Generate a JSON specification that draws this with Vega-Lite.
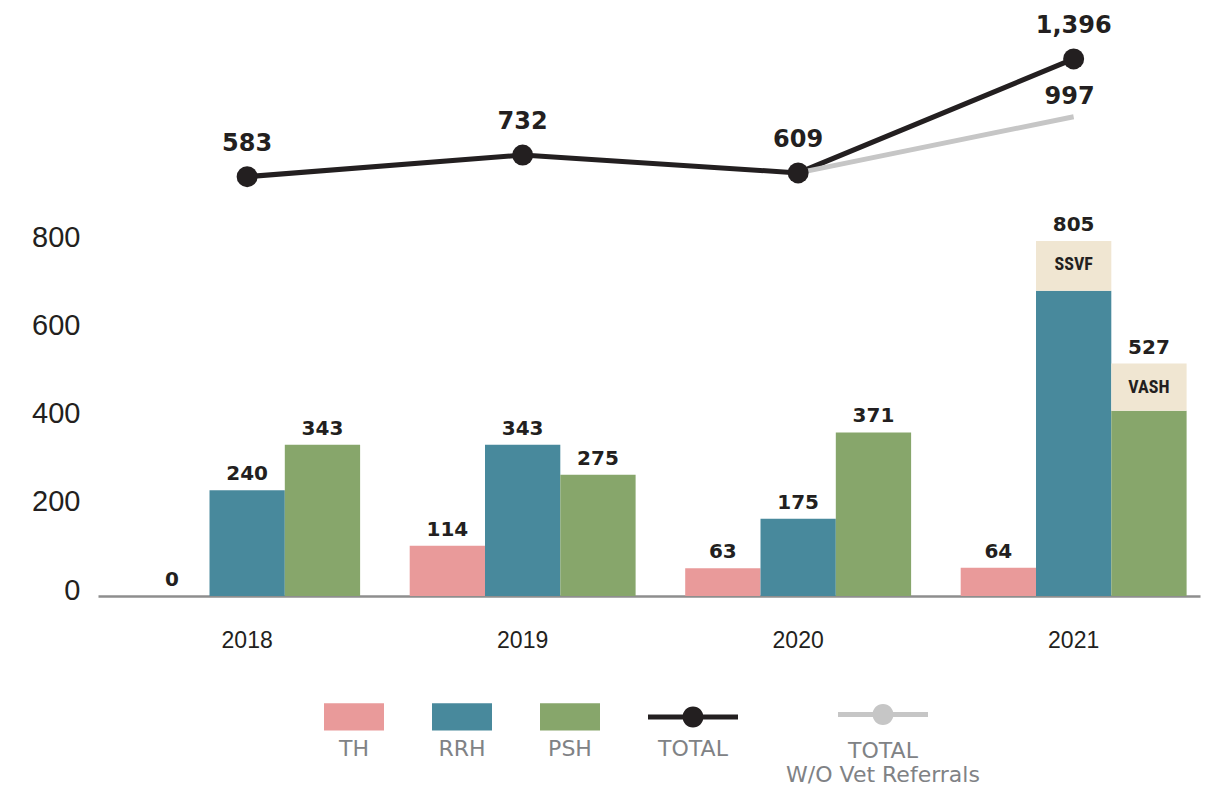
{
  "$schema": "https://vega.github.io/schema/vega-lite/v6.json",
  "width": 1102,
  "height": 596,
  "autosize": {"type": "none"},
  "padding": {"left": 98, "top": 0, "right": 12, "bottom": 197},
  "background": "white",
  "config": {"view": {"stroke": null}},
  "datasets": {
    "bars": [
      {"year": "2018", "series": "TH", "category": "TH", "value": 0, "stackOrder": 0},
      {"year": "2018", "series": "RRH", "category": "RRH", "value": 240, "stackOrder": 0},
      {"year": "2018", "series": "PSH", "category": "PSH", "value": 343, "stackOrder": 0},
      {"year": "2019", "series": "TH", "category": "TH", "value": 114, "stackOrder": 0},
      {"year": "2019", "series": "RRH", "category": "RRH", "value": 343, "stackOrder": 0},
      {"year": "2019", "series": "PSH", "category": "PSH", "value": 275, "stackOrder": 0},
      {"year": "2020", "series": "TH", "category": "TH", "value": 63, "stackOrder": 0},
      {"year": "2020", "series": "RRH", "category": "RRH", "value": 175, "stackOrder": 0},
      {"year": "2020", "series": "PSH", "category": "PSH", "value": 371, "stackOrder": 0},
      {"year": "2021", "series": "TH", "category": "TH", "value": 64, "stackOrder": 0},
      {"year": "2021", "series": "RRH", "category": "RRH", "value": 692, "stackOrder": 0},
      {"year": "2021", "series": "RRH", "category": "SSVF", "value": 113, "stackOrder": 1},
      {"year": "2021", "series": "PSH", "category": "PSH", "value": 420, "stackOrder": 0},
      {"year": "2021", "series": "PSH", "category": "VASH", "value": 107, "stackOrder": 1}
    ],
    "totals": [
      {"year": "2018", "series": "TOTAL", "value": 583},
      {"year": "2019", "series": "TOTAL", "value": 732},
      {"year": "2020", "series": "TOTAL", "value": 609},
      {"year": "2021", "series": "TOTAL", "value": 1396},
      {"year": "2020", "series": "TOTAL W/O Vet Referrals", "value": 609},
      {"year": "2021", "series": "TOTAL W/O Vet Referrals", "value": 997}
    ]
  },
  "encoding": {
    "x": {
      "field": "year",
      "type": "nominal",
      "scale": {"paddingInner": 0.18, "paddingOuter": 0.09, "align": 0.73},
      "axis": {
        "title": null,
        "ticks": false,
        "domain": true,
        "domainColor": "#8e8e8e",
        "domainWidth": 2.5,
        "labelFont": "Liberation Sans",
        "labelFontSize": 23,
        "labelColor": "#231f20",
        "labelPadding": 33,
        "labelAngle": 0
      }
    }
  },
  "layer": [
    {
      "data": {"name": "bars"},
      "encoding": {
        "xOffset": {
          "field": "series",
          "type": "nominal",
          "scale": {"domain": ["TH", "RRH", "PSH"], "paddingInner": 0, "paddingOuter": 0}
        }
      },
      "layer": [
        {
          "mark": {"type": "bar"},
          "encoding": {
            "y": {
              "field": "value",
              "type": "quantitative",
              "stack": "zero",
              "scale": {"domain": [0, 1351.5], "nice": false, "zero": true},
              "axis": {
                "title": null,
                "ticks": false,
                "domain": false,
                "grid": false,
                "values": [0, 200, 400, 600, 800],
                "labelFont": "Liberation Sans",
                "labelFontSize": 29,
                "labelColor": "#231f20",
                "labelPadding": 18,
                "labelOffset": -6
              }
            },
            "order": {"field": "stackOrder", "type": "quantitative"},
            "color": {
              "field": "category",
              "type": "nominal",
              "scale": {
                "domain": ["TH", "RRH", "PSH", "TOTAL", "TOTAL W/O Vet Referrals", "SSVF", "VASH"],
                "range": ["#e99a9a", "#48899c", "#87a66b", "#231f20", "#c6c6c6", "#f0e6d2", "#f0e6d2"]
              },
              "legend": {
                "title": null,
                "orient": "none",
                "legendX": 226,
                "legendY": 706,
                "direction": "horizontal",
                "padding": 0,
                "values": ["TH", "RRH", "PSH", "TOTAL", "TOTAL W/O Vet Referrals"],
                "symbolType": "M-1,-1.177H1V-0.267H-1Z",
                "symbolSize": 3600,
                "symbolStrokeWidth": 0,
                "labelOffset": -30,
                "labelAlign": "center",
                "labelBaseline": "top",
                "labelFont": "DejaVu Sans",
                "labelFontSize": 22,
                "labelColor": "#808285",
                "labelLimit": 400,
                "columnPadding": 48,
                "labelExpr": "datum.label == 'TOTAL W/O Vet Referrals' ? ['TOTAL', 'W/O Vet Referrals'] : [datum.label, ' ']",
                "encode": {
                  "symbols": {
                    "update": {
                      "shape": {"signal": "(datum.value == 'TOTAL' || datum.value == 'TOTAL W/O Vet Referrals') ? 'M-1.5,-0.8H1.5V-0.633H-1.5Z M0.35,-0.717C0.35,-0.5237 0.1933,-0.367 0,-0.367C-0.1933,-0.367 -0.35,-0.5237 -0.35,-0.717C-0.35,-0.9103 -0.1933,-1.067 0,-1.067C0.1933,-1.067 0.35,-0.9103 0.35,-0.717Z' : 'M-1,-1.177H1V-0.267H-1Z'"},
                      "fill": {"scale": "color", "field": "value"},
                      "stroke": {"value": "transparent"},
                      "strokeWidth": {"value": 0},
                      "opacity": {"value": 1}
                    }
                  },
                  "labels": {
                    "update": {
                      "lineHeight": {"value": 24},
                      "dy": {"signal": "datum.value == 'TOTAL W/O Vet Referrals' ? 5 : 0"}
                    }
                  }
                }
              }
            }
          }
        },
        {
          "mark": {"type": "text", "font": "DejaVu Sans", "fontWeight": "bold", "fontSize": 20, "baseline": "alphabetic", "dy": -10, "color": "#231f20"},
          "encoding": {
            "y": {"aggregate": "sum", "field": "value", "type": "quantitative"},
            "text": {"aggregate": "sum", "field": "value", "type": "quantitative", "format": ","}
          }
        },
        {
          "transform": [
            {"stack": "value", "groupby": ["year", "series"], "sort": [{"field": "stackOrder", "order": "ascending"}], "as": ["v0", "v1"]},
            {"filter": "datum.stackOrder == 1"}
          ],
          "mark": {"type": "text", "font": "Roboto Condensed, Liberation Sans Narrow, DejaVu Sans Condensed, Roboto", "fontWeight": "bold", "fontSize": 18, "baseline": "middle", "dy": 24, "color": "#231f20"},
          "encoding": {
            "y": {"field": "v1", "type": "quantitative"},
            "text": {"field": "category", "type": "nominal"}
          }
        }
      ]
    },
    {
      "data": {"name": "totals"},
      "encoding": {
        "y": {
          "field": "value",
          "type": "quantitative",
          "scale": {"domain": [-2313, 1803], "nice": false, "zero": false},
          "axis": null
        }
      },
      "layer": [
        {
          "mark": {"type": "line", "strokeWidth": 5},
          "encoding": {
            "color": {
              "field": "series",
              "type": "nominal",
              "scale": {
                "domain": ["TH", "RRH", "PSH", "TOTAL", "TOTAL W/O Vet Referrals", "SSVF", "VASH"],
                "range": ["#e99a9a", "#48899c", "#87a66b", "#231f20", "#c6c6c6", "#f0e6d2", "#f0e6d2"]
              }
            }
          }
        },
        {
          "transform": [{"filter": "datum.series == 'TOTAL'"}],
          "mark": {"type": "circle", "size": 441, "opacity": 1, "color": "#231f20"}
        },
        {
          "transform": [{"filter": "datum.series == 'TOTAL'"}],
          "mark": {"type": "text", "font": "DejaVu Sans", "fontWeight": "bold", "fontSize": 24, "baseline": "alphabetic", "dy": -26, "color": "#231f20"},
          "encoding": {
            "text": {"field": "value", "type": "quantitative", "format": ","}
          }
        },
        {
          "transform": [{"filter": "datum.series == 'TOTAL W/O Vet Referrals' && datum.year == '2021'"}],
          "mark": {"type": "text", "font": "DejaVu Sans", "fontWeight": "bold", "fontSize": 24, "baseline": "alphabetic", "dy": -13, "dx": -4, "color": "#231f20"},
          "encoding": {
            "text": {"field": "value", "type": "quantitative", "format": ","}
          }
        }
      ]
    }
  ],
  "resolve": {"scale": {"y": "independent"}}
}
